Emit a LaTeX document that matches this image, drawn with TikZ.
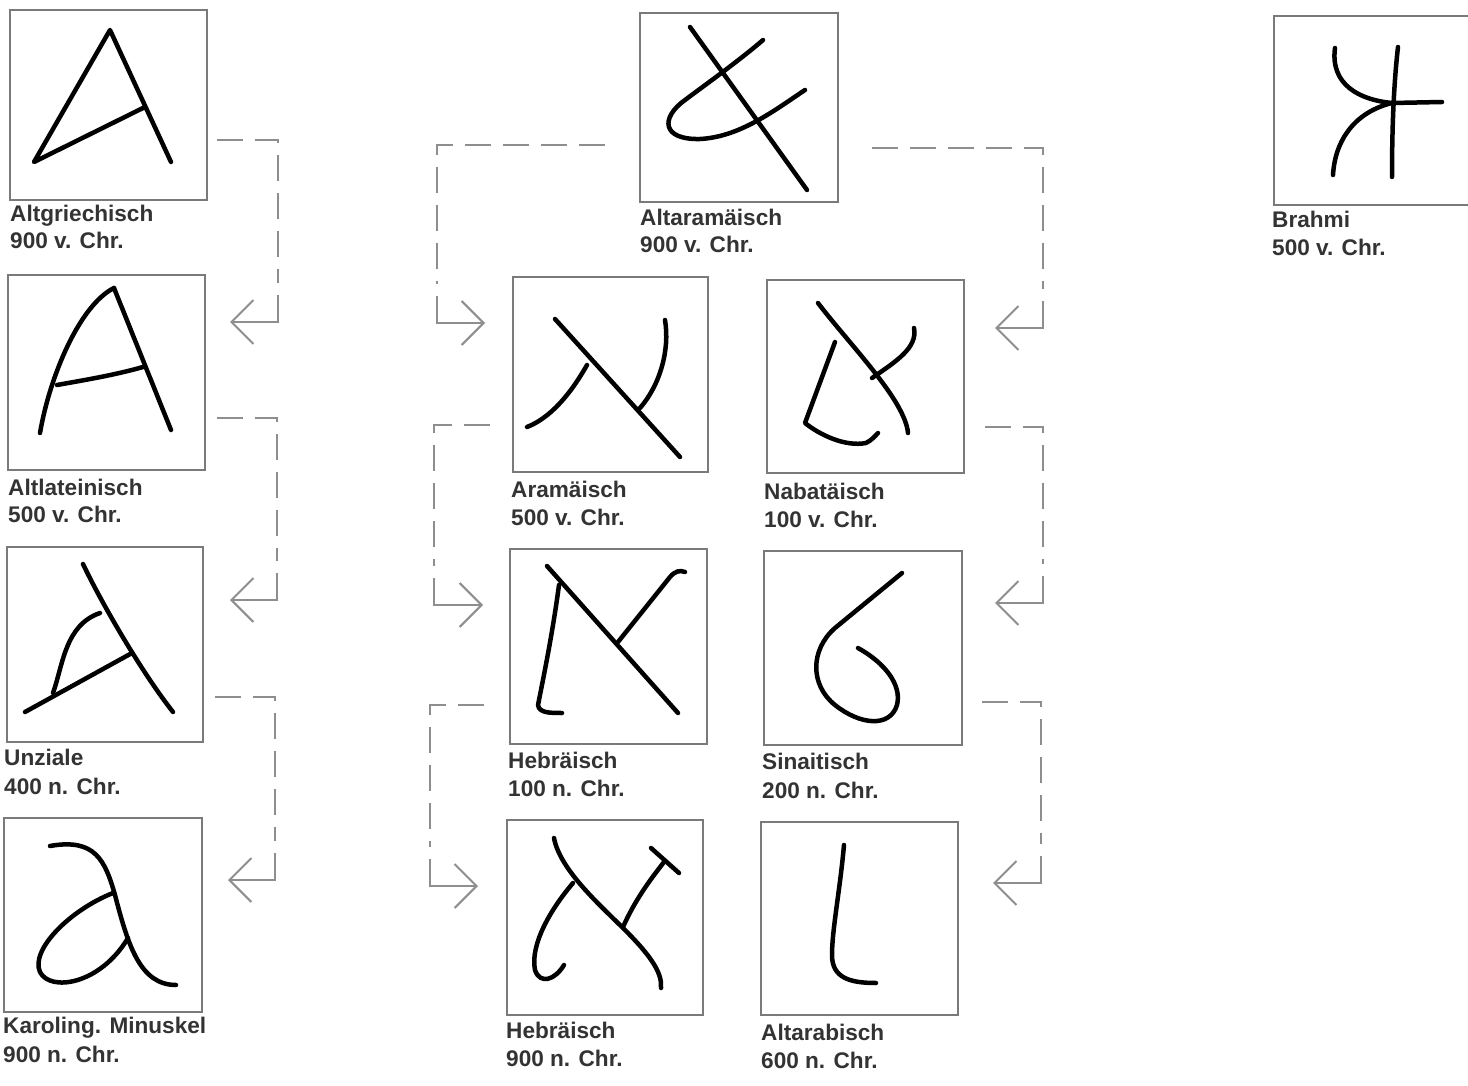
\documentclass[tikz,border=0pt]{standalone}
\usepackage{fontspec}
\setmainfont{Liberation Sans}
\usetikzlibrary{calc,arrows.meta}
\definecolor{boxcol}{HTML}{7A7A7A}
\definecolor{conncol}{HTML}{8E8E8E}
\definecolor{txtcol}{HTML}{333333}
\newcommand\linkto[3]{%
  \draw[dconn] (#1) -- ($(#2 |- #1)+(#3,0)$) -- ($(#2)+(#3,-39)$);
  \draw[sconn] ($(#2)+(#3,-27)$) -- ($(#2)+(#3,0)$) -- (#2);}
\begin{document}
\begin{tikzpicture}[x=1pt,y=-1pt,
  box/.style={draw=boxcol,line width=1.6pt,inner sep=0pt,outer sep=0pt,anchor=north west,rectangle},
  lbl/.style={font=\fontsize{22.6}{27}\selectfont\bfseries,text=txtcol,inner sep=0pt,anchor=base west},
  glyph/.style={line width=4.5pt,line cap=round,line join=round,draw=black},
  dconn/.style={draw=conncol,line width=2pt,dash pattern=on 26pt off 12pt},
  sconn/.style={draw=conncol,line width=2pt,-{Straight Barb[length=22pt,width=44pt]}}]
\useasboundingbox (0,0) rectangle (1468,1086);
\clip (0,0) rectangle (1468,1086);
\fill[white] (0,0) rectangle (1468,1086);

% boxes
\node[box,minimum width=197,minimum height=190] (gr) at (10,10) {};
\node[box,minimum width=197,minimum height=195] (la) at (8,275) {};
\node[box,minimum width=196,minimum height=195] (un) at (7,547) {};
\node[box,minimum width=198,minimum height=194] (ka) at (4,818) {};
\node[box,minimum width=198,minimum height=189] (aa) at (640,13) {};
\node[box,minimum width=195,minimum height=195] (ar) at (513,277) {};
\node[box,minimum width=197,minimum height=193] (na) at (767,280) {};
\node[box,minimum width=197,minimum height=195] (h1) at (510,549) {};
\node[box,minimum width=198,minimum height=194] (si) at (764,551) {};
\node[box,minimum width=196,minimum height=195] (h9) at (507,820) {};
\node[box,minimum width=197,minimum height=193] (ab) at (761,822) {};
\node[box,minimum width=206,minimum height=189] (br) at (1274,16) {};

% labels
\node[lbl] (grn) at (10,222) {Altgriechisch};
\node[lbl] (grd) at (10,249) {900 v. Chr.};
\node[lbl] (lan) at (8,495) {Altlateinisch};
\node[lbl] (lad) at (8,522) {500 v. Chr.};
\node[lbl] (unn) at (4,765) {Unziale};
\node[lbl] (und) at (4,794) {400 n. Chr.};
\node[lbl] (kan) at (3,1033) {Karoling. Minuskel};
\node[lbl] (kad) at (3,1062) {900 n. Chr.};
\node[lbl] (aan) at (640,226) {Altaramäisch};
\node[lbl] (aad) at (640,253) {900 v. Chr.};
\node[lbl] (arn) at (511,497) {Aramäisch};
\node[lbl] (ard) at (511,525) {500 v. Chr.};
\node[lbl] (nan) at (764,499) {Nabatäisch};
\node[lbl] (nad) at (764,527) {100 v. Chr.};
\node[lbl] (h1n) at (508,768) {Hebräisch};
\node[lbl] (h1d) at (508,796) {100 n. Chr.};
\node[lbl] (sin) at (762,769) {Sinaitisch};
\node[lbl] (sid) at (762,798) {200 n. Chr.};
\node[lbl] (h9n) at (506,1038) {Hebräisch};
\node[lbl] (h9d) at (506,1066) {900 n. Chr.};
\node[lbl] (abn) at (761,1040) {Altarabisch};
\node[lbl] (abd) at (761,1068) {600 n. Chr.};
\node[lbl] (brn) at (1272,228) {Brahmi};
\node[lbl] (brd) at (1272,256) {500 v. Chr.};

% glyphs
\draw[glyph] (171,162) -- (110,30) -- (34,162) -- (143,108);
\draw[glyph] (114,288) -- (171,430);
\draw[glyph] (114,288) .. controls (80,305) and (50,375) .. (40,433);
\draw[glyph] (57,385) .. controls (85,380) and (115,375) .. (143,367);
\draw[glyph] (83,564) .. controls (100,600) and (140,670) .. (173,712);
\draw[glyph] (25,712) -- (132,653);
\draw[glyph] (53,693) .. controls (63,665) and (65,625) .. (100,613);
\draw[glyph] (50,846) .. controls (95,838) and (105,860) .. (115,895) .. controls (128,945) and (140,985) .. (176,985);
\draw[glyph] (113,893) .. controls (70,910) and (30,950) .. (40,972) .. controls (50,992) and (100,985) .. (128,938);
\draw[glyph] (690,27) -- (807,190);
\draw[glyph] (763,40) .. controls (740,60) and (705,85) .. (685,100) .. controls (660,118) and (662,140) .. (700,139) .. controls (740,137) and (775,110) .. (805,90);
\draw[glyph] (555,319) -- (680,457);
\draw[glyph] (587,365) .. controls (570,395) and (550,418) .. (527,427);
\draw[glyph] (640,408) .. controls (660,385) and (670,350) .. (665,320);
\draw[glyph] (818,303) .. controls (850,345) and (905,400) .. (908,433);
\draw[glyph] (872,378) .. controls (895,362) and (918,348) .. (914,328);
\draw[glyph] (835,342) -- (805,423) .. controls (820,435) and (845,447) .. (866,443) .. controls (872,440) and (875,436) .. (878,433);
\draw[glyph] (547,566) -- (678,713);
\draw[glyph] (618,642) -- (670,577) .. controls (675,571) and (680,570) .. (685,572);
\draw[glyph] (559,585) .. controls (553,630) and (545,670) .. (538,705) .. controls (539,713) and (550,713) .. (562,713);
\draw[glyph] (902,573) -- (835,628) .. controls (810,650) and (810,685) .. (835,705) .. controls (860,725) and (890,728) .. (897,705) .. controls (902,685) and (885,663) .. (858,648);
\draw[glyph] (554,838) .. controls (560,870) and (600,905) .. (625,930) .. controls (655,960) and (662,975) .. (661,988);
\draw[glyph] (573,883) .. controls (550,910) and (530,945) .. (535,970) .. controls (540,985) and (555,980) .. (564,965);
\draw[glyph] (623,927) .. controls (635,900) and (650,880) .. (664,862);
\draw[glyph] (651,848) -- (679,873);
\draw[glyph] (844,845) .. controls (840,890) and (832,930) .. (832,955) .. controls (832,978) and (850,983) .. (876,983);
\draw[glyph] (1398,47) .. controls (1393,90) and (1392,140) .. (1392,177);
\draw[glyph] (1392,103) -- (1442,102);
\draw[glyph] (1335,48) .. controls (1330,85) and (1360,100) .. (1392,103);
\draw[glyph] (1392,103) .. controls (1355,112) and (1335,140) .. (1333,175);

% connectors
\coordinate (s1) at ($(gr.north east)+(10,130)$);  \coordinate (t1) at ($(la.north east)+(25,47)$);
\coordinate (s2) at ($(la.north east)+(12,143)$);  \coordinate (t2) at ($(un.north east)+(27,53)$);
\coordinate (s3) at ($(un.north east)+(12,150)$);  \coordinate (t3) at ($(ka.north east)+(26,62)$);
\coordinate (s4) at ($(aa.north west)+(-35,132)$); \coordinate (t4) at ($(ar.north west)+(-28,46)$);
\coordinate (s5) at ($(aa.north east)+(34,135)$);  \coordinate (t5) at ($(na.north east)+(31,48)$);
\coordinate (s6) at ($(ar.north west)+(-23,148)$); \coordinate (t6) at ($(h1.north west)+(-27,56)$);
\coordinate (s7) at ($(na.north east)+(21,147)$);  \coordinate (t7) at ($(si.north east)+(33,52)$);
\coordinate (s8) at ($(h1.north west)+(-26,156)$); \coordinate (t8) at ($(h9.north west)+(-29,66)$);
\coordinate (s9) at ($(si.north east)+(20,151)$);  \coordinate (t9) at ($(ab.north east)+(35,61)$);
\linkto{s1}{t1}{48}
\linkto{s2}{t2}{47}
\linkto{s3}{t3}{47}
\linkto{s4}{t4}{-48}
\linkto{s5}{t5}{48}
\linkto{s6}{t6}{-49}
\linkto{s7}{t7}{48}
\linkto{s8}{t8}{-48}
\linkto{s9}{t9}{48}
\end{tikzpicture}
\end{document}
